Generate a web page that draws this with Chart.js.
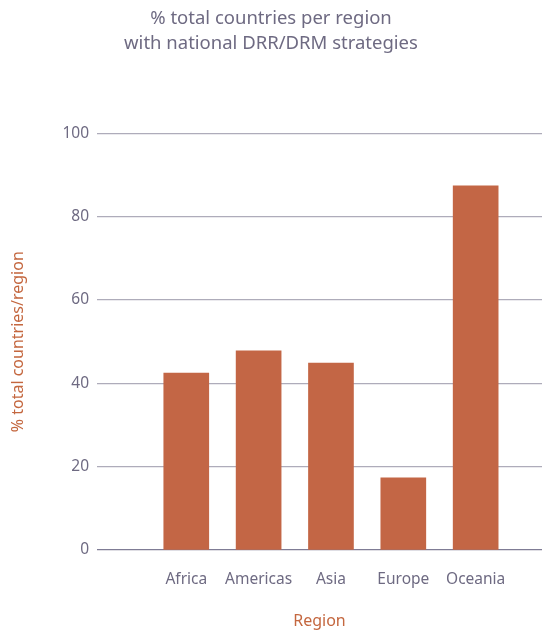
<!DOCTYPE html>
<html>
<head>
<meta charset="utf-8">
<script src="https://cdn.jsdelivr.net/npm/chart.js@4/dist/chart.umd.min.js"></script>
<style>
  html, body { margin: 0; padding: 0; background: #fff; }
  #wrap { width: 542px; height: 632px; }
</style>
</head>
<body>
<div id="wrap"><canvas id="chart"></canvas></div>
<script>
// region names and share of countries with national DRR/DRM strategies (%)
var regions = ["Africa", "Americas", "Asia", "Europe", "Oceania"];
var shares = [42.5, 47.8, 44.9, 17.3, 87.4];
var yTicks = [0, 20, 40, 60, 80, 100];

var grey = "#6e6a82";
var orange = "#c4673f";
var fam = "'Noto Sans'";

var points = regions.map((r, i) => ({ x: i + 1, y: shares[i] }));

new Chart(document.getElementById("chart"), {
  type: "bar",
  data: {
    datasets: [{
      data: points,
      backgroundColor: "#c36645",
      barThickness: 45
    }]
  },
  options: {
    responsive: true,
    maintainAspectRatio: false,
    animation: false,
    layout: { padding: 0 },
    plugins: {
      legend: { display: false },
      tooltip: { enabled: false },
      title: {
        display: true,
        text: ["% total countries per region", "with national DRR/DRM strategies"],
        color: grey,
        font: { family: fam, size: 18.5, weight: "normal", lineHeight: 1.35 },
        padding: { top: 6, bottom: 77.5 }
      }
    },
    scales: {
      x: {
        type: "linear",
        offset: false,
        min: -0.234,
        max: 5.917,
        grid: { display: false },
        border: { display: false },
        afterBuildTicks: s => { s.ticks = regions.map((r, i) => ({ value: i + 1 })); },
        afterFit: s => { s.height = 82; s.paddingLeft = 0; s.paddingRight = 0; },
        ticks: {
          color: grey,
          font: { family: fam, size: 15.5 },
          padding: 12,
          maxRotation: 0,
          autoSkip: false,
          callback: v => regions[v - 1] || ""
        },
        title: {
          display: true,
          text: "Region",
          color: orange,
          font: { family: fam, size: 16 },
          padding: { top: 4, bottom: 1 }
        }
      },
      y: {
        min: 0,
        max: 100,
        afterBuildTicks: s => { s.ticks = yTicks.map(v => ({ value: v })); },
        afterFit: s => { s.width = 97; },
        grid: {
          drawTicks: false,
          lineWidth: 1.3,
          color: c => c.tick && c.tick.value === 0 ? "#7f7c95" : "#aeacba"
        },
        border: { display: false },
        ticks: {
          color: grey,
          font: { family: fam, size: 15.5 },
          padding: 8
        },
        title: {
          display: true,
          text: "% total countries/region",
          color: orange,
          font: { family: fam, size: 16 },
          padding: { top: 9, bottom: 0 }
        }
      }
    }
  }
});
</script>
</body>
</html>
